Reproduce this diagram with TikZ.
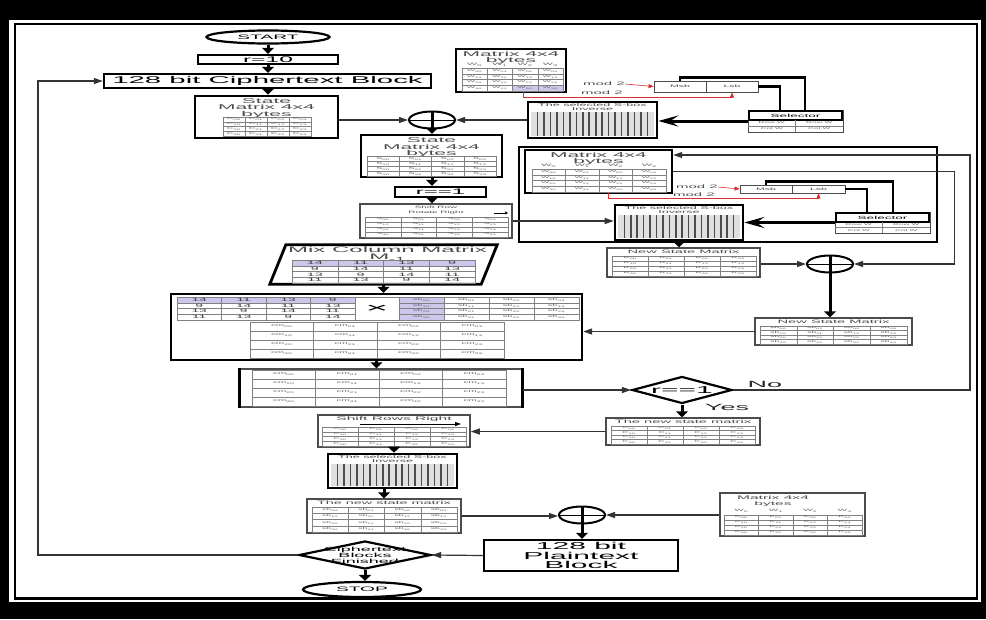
\documentclass[tikz,border=0pt]{standalone}
\usepackage{fontspec}
\setmainfont{Liberation Sans}
\newfontfamily\wf[FakeStretch=3.0]{Liberation Sans}
\usepackage{tikz}
\usetikzlibrary{arrows.meta,positioning,shapes.geometric,calc,fit}
\definecolor{cellpurple}{rgb}{0.80,0.78,0.92}
\definecolor{modred}{rgb}{0.86,0.18,0.18}

\newcommand{\wfs}[2]{\wf\fontsize{#1}{#2}\selectfont}

% 4x4 table with indexed entries
\newcommand{\mgrid}[7]{%
  \draw[gridline] (#2,#3) rectangle (#4,#5);
  \foreach \k in {1,2,3} {
    \draw[gridline] ({#2+(#4-#2)*\k/4},#3) -- ({#2+(#4-#2)*\k/4},#5);
    \draw[gridline] (#2,{#3+(#5-#3)*\k/4}) -- (#4,{#3+(#5-#3)*\k/4});
  }
  \foreach \gi in {0,...,3}
    \foreach \gj in {0,...,3}
      \node[cell, font={\wfs{#7}{#7}}] (#1-\gi\gj)
        at ({#2+(#4-#2)*(\gj+0.5)/4},{#3+(#5-#3)*(\gi+0.5)/4}) {#6\textsubscript{\gi\gj}};
}
% 4x4 table of the inverse mix column numbers
\newcommand{\numgrid}[6]{%
  \draw[gridline] (#2,#3) rectangle (#4,#5);
  \foreach \k in {1,2,3} {
    \draw[gridline] ({#2+(#4-#2)*\k/4},#3) -- ({#2+(#4-#2)*\k/4},#5);
    \draw[gridline] (#2,{#3+(#5-#3)*\k/4}) -- (#4,{#3+(#5-#3)*\k/4});
  }
  \foreach \grow [count=\gi from 0] in {{14,11,13,9},{9,14,11,13},{13,9,14,11},{11,13,9,14}}
    \foreach \gv [count=\gj from 0] in \grow
      \node[cell, text=black!75, font={\wfs{#6}{#6}}] (#1-\gi\gj)
        at ({#2+(#4-#2)*(\gj+0.5)/4},{#3+(#5-#3)*(\gi+0.5)/4}) {\gv};
}
% header row W0..W3
\newcommand{\hdrrow}[6]{%
  \foreach \gj in {0,...,3}
    \node[cell, font={\wfs{#6}{#6}}] (#1-h\gj) at ({#2+(#3-#2)*(\gj+0.5)/4},#4) {#5\textsubscript{\gj}};
}
% S-box block
\newcommand{\sboxdraw}[5]{%
  \node[draw, line width=2.6pt, inner sep=0pt, fit={(#2,#3) (#4,#5)}] (#1) {};
  \fill[black!12] ({#2+3},{#3+10}) rectangle ({#4-3},{#5-2});
  \foreach \k in {1,...,18}
    \draw[line width=1.6pt, black!70] ({#2+3+(#4-#2-6)*\k/19},{#3+10}) -- ({#2+3+(#4-#2-6)*\k/19},{#5-2});
  \node[ttext, font={\wfs{4.2}{3.8}}, anchor=north] (#1-t) at ($(#1.north)+(0,3)$) {The selected S-box\\Inverse};
}
% selector block
\newcommand{\selector}[5]{%
  \node[tbox, line width=1pt, fit={(#2,#3) (#4,#5)}] (#1) {};
  \node[draw, line width=1.8pt, inner sep=0pt, fit={({#2+1},{#3+1}) ({#4-1},{#3+10})},
    label={[font={\wfs{4.5}{4.5}}, inner sep=0pt]center:Selector}] (#1-h) {};
  \draw[gridline] ({(#2+#4)/2},{#3+10}) -- ({(#2+#4)/2},#5);
  \draw[gridline] (#2,{(#3+10+#5)/2}) -- (#4,{(#3+10+#5)/2});
  \node[cell, font={\wfs{2.7}{2.7}}] (#1-a) at ({#2+(#4-#2)/4},{#3+10+(#5-#3-10)/4}) {Row W};
  \node[cell, font={\wfs{2.7}{2.7}}] (#1-b) at ({#2+3*(#4-#2)/4},{#3+10+(#5-#3-10)/4}) {Row W};
  \node[cell, font={\wfs{2.7}{2.7}}] (#1-c) at ({#2+(#4-#2)/4},{#3+10+3*(#5-#3-10)/4}) {Col W};
  \node[cell, font={\wfs{2.7}{2.7}}] (#1-d) at ({#2+3*(#4-#2)/4},{#3+10+3*(#5-#3-10)/4}) {Col W};
}

\begin{document}
\begin{tikzpicture}[x=1pt,y=-1pt,
  box/.style={draw, line width=2.4pt, inner sep=0pt},
  tbox/.style={draw=black!70, line width=1.5pt, inner sep=0pt},
  gridline/.style={draw=black!50, line width=0.5pt},
  cell/.style={inner sep=0pt, text=black!60},
  ttext/.style={inner sep=0pt, align=center, text=black!70},
  btext/.style={inner sep=0pt, align=center, text=black!85},
  arr/.style={-{Triangle[length=6pt,width=12pt]}, line width=3pt},
  harr/.style={-{Triangle[length=9pt,width=6pt]}, line width=1.2pt, draw=black!80},
  farr/.style={-{Stealth[length=20pt,width=11pt,inset=8pt]}, line width=3pt},
  rarr/.style={-{Triangle[length=5pt,width=4pt]}, draw=modred, line width=0.6pt},
  link/.style={line width=2.4pt},
  xor/.style={ellipse, draw, line width=2pt, minimum width=46pt, minimum height=17pt, inner sep=0pt},
  term/.style={ellipse, draw, line width=2.2pt, inner sep=0pt},
  dec/.style={diamond, draw, line width=2.2pt, inner sep=0pt},
]
\useasboundingbox (0,0) rectangle (986,619);
% frame
\fill[black] (0,0) rectangle (986,619);
\fill[white] (9,20) rectangle (981,602);
\draw[line width=2.5pt] (15,24) rectangle (977,598.5);

% first round
\node[term, minimum width=123pt, minimum height=13pt, font={\wfs{6.4}{6.4}}] (start) at (268,37) {START};
\node[box, fit={(198,55) (338,64)},
  label={[font={\wfs{8.2}{8.2}}, inner sep=0pt]center:r=10}] (r10) {};
\node[box, fit={(104,74) (431,88)},
  label={[font={\wfs{9.8}{9.8}}, inner sep=0pt]center:128 bit Ciphertext Block}] (ct) {};
\node[box, line width=2.8pt, fit={(195,96) (338,138)}] (sm1) {};
\node[ttext, font={\wfs{7}{6.8}}, anchor=north] (sm1-t) at ($(sm1.north)+(0,3.5)$) {State\\Matrix 4x4\\bytes};
\mgrid{sm1}{223}{117}{311}{136}{C}{3}
\draw[arr] (start.south) -- (start.south |- r10.north);
\draw[arr] (r10.south -| start.south) -- (start.south |- ct.north);
\draw[arr] (ct.south -| start.south) -- (start.south |- sm1.north);

\node[xor] (xor1) at (432,120) {};
\draw[line width=1pt] (xor1.west) -- (xor1.east);
\draw[harr] (sm1.east |- xor1.west) -- (xor1.west);

\node[box, fit={(456,49) (566,92)}] (wm1) {};
\node[ttext, font={\wfs{7}{6.5}}, anchor=north] (wm1-t) at ($(wm1.north)+(0,3)$) {Matrix 4x4\\bytes};
\hdrrow{wm1}{462}{563}{65}{W}{3.6}
\fill[cellpurple] (512.5,85.25) rectangle (563,91);
\mgrid{wm1}{462}{68}{563}{91}{W}{2.8}
\node[ttext, font={\wfs{5}{5}}] (wm1-m1) at (604,84) {mod 2};
\node[ttext, font={\wfs{5}{5}}] (wm1-m2) at (602,93) {mod 2};
\node[tbox, line width=0.8pt, fit={(654,81) (706,92)},
  label={[font={\wfs{3.5}{3.5}}, inner sep=0pt, text=black!70]center:Msb}] (msb1) {};
\node[tbox, line width=0.8pt, fit={(706,81) (758,92)},
  label={[font={\wfs{3.5}{3.5}}, inner sep=0pt, text=black!70]center:Lsb}] (lsb1) {};
\draw[rarr] (wm1-m1.east) -- (msb1.west);
\coordinate (wm1-r) at (523,92);
\draw[rarr] (wm1-r) -- ++(0,5) -| (lsb1.south);
\selector{sel1}{748}{110}{843}{132}
\draw[link] (lsb1.east) -| ($(sel1.north west)!0.34!(sel1.north east)$);
\draw[link] (msb1.north) -- ++(0,-3) -| ($(sel1.north west)!0.6!(sel1.north east)$);
\sboxdraw{sb1}{528}{102}{657}{138}
\draw[farr] (sel1.west) -- (sel1.west -| sb1.east);
\draw[harr] (sb1.west |- xor1.east) -- (xor1.east);

\node[box, fit={(361,135) (502,177)}] (sm2) {};
\node[ttext, font={\wfs{7}{6.8}}, anchor=north] (sm2-t) at ($(sm2.north)+(0,3.5)$) {State\\Matrix 4x4\\bytes};
\mgrid{sm2}{367}{156}{496}{176}{S}{3}
\draw[arr] (xor1.north) -- (xor1.north |- sm2.north);
\node[box, fit={(395,187) (486,197)},
  label={[font={\wfs{8}{8}}, inner sep=0pt]center:r==1}] (r11) {};
\node[tbox, fit={(360,204) (512,238)}] (shr) {};
\node[ttext, font={\wfs{3.3}{4.5}}, anchor=north] (shr-t) at ($(shr.north)+(0,3)$) {Shift Row\\Rotate Right};
\mgrid{shr}{365}{217}{508}{237}{S}{2.8}
\coordinate (shr-a1) at (494,213);
\coordinate (shr-a2) at (508,213);
\draw[-{Triangle[length=3pt,width=3pt]}, line width=0.6pt] (shr-a1) -- (shr-a2);
\draw[arr] (sm2.south -| xor1.north) -- (xor1.north |- r11.north);
\draw[arr] (r11.south -| xor1.north) -- (xor1.north |- shr.north);

% repeated rounds
\node[draw, line width=2.6pt, inner sep=0pt, fit={(519,147) (937,242)}] (loop) {};
\node[box, fit={(525,150) (672,193)}] (wm2) {};
\node[ttext, font={\wfs{7}{6.5}}, anchor=north] (wm2-t) at ($(wm2.north)+(0,3)$) {Matrix 4x4\\bytes};
\hdrrow{wm2}{532}{666}{166}{W}{3.6}
\mgrid{wm2}{532}{169}{666}{192}{W}{2.8}
\node[ttext, font={\wfs{5}{5}}] (wm2-m1) at (697,187) {mod 2};
\node[ttext, font={\wfs{5}{5}}] (wm2-m2) at (694,195) {mod 2};
\node[tbox, line width=0.8pt, fit={(740,185) (792,193)},
  label={[font={\wfs{3.5}{3.5}}, inner sep=0pt, text=black!70]center:Msb}] (msb2) {};
\node[tbox, line width=0.8pt, fit={(792,185) (845,193)},
  label={[font={\wfs{3.5}{3.5}}, inner sep=0pt, text=black!70]center:Lsb}] (lsb2) {};
\draw[rarr] (wm2-m1.east) -- (msb2.west);
\coordinate (wm2-r) at (608,193);
\draw[rarr] (wm2-r) -- ++(0,5) -| (lsb2.south);
\selector{sel2}{835}{212}{930}{233}
\draw[link] (lsb2.east) -| ($(sel2.north west)!0.34!(sel2.north east)$);
\draw[link] (msb2.north) -- ++(0,-3) -| ($(sel2.north west)!0.61!(sel2.north east)$);
\sboxdraw{sb2}{615}{205}{743}{240}
\draw[farr] (sel2.west) -- (sel2.west -| sb2.east);
\draw[harr] (shr.east) -- (shr.east -| sb2.west);

\node[tbox, fit={(607,248) (760,277)}] (nsm1) {};
\node[ttext, font={\wfs{4.9}{4.9}}, anchor=north] (nsm1-t) at ($(nsm1.north)+(0,2.5)$) {New State Matrix};
\mgrid{nsm1}{612}{256}{756}{276}{R}{2.8}
\draw[arr] (sb2.south) -- (sb2.south |- nsm1.north);
\node[xor] (xor2) at (830,264) {};
\draw[line width=1pt] (xor2.west) -- (xor2.east);
\draw[harr] (nsm1.east |- xor2.west) -- (xor2.west);
\draw[harr] (wm2.east) -- ++(281,0) |- (xor2.east);

\node[tbox, fit={(755,318) (912,345)}] (nsm2) {};
\node[ttext, font={\wfs{4.9}{4.9}}, anchor=north] (nsm2-t) at ($(nsm2.north)+(0,2.5)$) {New State Matrix};
\mgrid{nsm2}{760}{326}{907}{344}{sb}{2.8}
\draw[arr] (xor2.north) -- (xor2.north |- nsm2.north);

% inverse mix column
\node[inner sep=0pt, fit={(270,245) (497,284)}] (mix) {};
\draw[line width=2.8pt] ($(mix.north west)+(16,0)$) -- (mix.north east) -- ($(mix.south east)+(-16,0)$) -- (mix.south west) -- cycle;
\node[ttext, font={\wfs{8}{7}}, anchor=north] (mix-t) at ($(mix.north)+(4,2)$) {Mix Column Matrix\\M\textsubscript{-1}};
\fill[cellpurple] (292,260) rectangle (475,266);
\numgrid{mix}{292}{260}{475}{283}{4.8}

\node[box, fit={(171,294) (582,360)}] (big) {};
\fill[cellpurple] (177,297) rectangle (355,302.75);
\numgrid{bigl}{177}{297}{355}{320}{4.6}
\draw[gridline] (355,297) rectangle (399,320);
\node[inner sep=0pt, font={\wfs{13}{13}}] (big-x) at (377,309) {×};
\fill[cellpurple] (399,297) rectangle (444,320);
\mgrid{bigr}{399}{297}{579}{320}{sb}{3}
\mgrid{bigc}{250}{322}{504}{358}{cm}{3.3}
\draw[arr] (mix.south) -- (mix.south |- big.north);
\draw[harr] (nsm2.west) -- (nsm2.west -| big.east);

\node[tbox, fit={(240,369) (522,407)}] (cm2) {};
\draw[line width=3pt] (cm2.north west) -- (cm2.south west);
\draw[line width=3pt] (cm2.north east) -- (cm2.south east);
\mgrid{cm2}{252}{370}{506}{406}{cm}{3.3}
\draw[arr] (big.south) -- (big.south |- cm2.north);

\node[dec, minimum width=100pt, minimum height=27pt,
  label={[font={\wfs{10}{10}}, inner sep=0pt]center:r==1}] (r11d) at (682,390) {};
\draw[harr] (cm2.east |- r11d.west) -- (r11d.west);
\node[btext, font={\wfs{9}{9}}] (no) at (765,384) {No};
\node[btext, font={\wfs{9}{9}}] (yes) at (727,407) {Yes};
\coordinate (nocorner) at (970,155);
\draw[harr] (r11d.east) -| (nocorner) -- (nocorner -| wm2.east);

% last round
\node[tbox, fit={(606,418) (760,445)}] (nsm3) {};
\node[ttext, font={\wfs{4.9}{4.9}}, anchor=north] (nsm3-t) at ($(nsm3.north)+(0,2.5)$) {The new state matrix};
\mgrid{nsm3}{611}{426}{755}{444}{C}{2.8}
\draw[arr] (r11d.south) -- (r11d.south |- nsm3.north);

\node[tbox, fit={(318,415) (470,447)}] (shrr) {};
\node[ttext, font={\wfs{5.2}{5.2}}, anchor=north] (shrr-t) at ($(shrr.north)+(0,2.5)$) {Shift Rows Right};
\coordinate (shrr-a1) at (360,424);
\coordinate (shrr-a2) at (461,424);
\draw[-{Triangle[length=6pt,width=4pt]}, line width=0.8pt] (shrr-a1) -- (shrr-a2);
\mgrid{shrr}{322}{427}{466}{446}{C}{2.8}
\draw[harr] (nsm3.west) -- (nsm3.west -| shrr.east);

\sboxdraw{sb3}{328}{454}{457}{488}
\draw[arr] (shrr.south) -- (shrr.south |- sb3.north);
\node[tbox, fit={(307,499) (461,533)}] (nsm4) {};
\node[ttext, font={\wfs{4.8}{4.8}}, anchor=north] (nsm4-t) at ($(nsm4.north)+(0,2.5)$) {The new state matrix};
\mgrid{nsm4}{312}{507}{457}{532}{sb}{2.8}
\draw[arr] (sb3.south -| nsm4.north) -- (nsm4.north);

\node[xor] (xor3) at (582,515) {};
\draw[line width=1pt] (xor3.west) -- (xor3.east);
\draw[harr] (nsm4.east) -- (nsm4.east -| xor3.west);
\node[tbox, fit={(720,493) (865,536)}] (mk) {};
\node[ttext, font={\wfs{5.2}{5.5}}, anchor=north] (mk-t) at (773,496) {Matrix 4x4\\bytes};
\hdrrow{mk}{724}{862}{511}{W}{3.3}
\mgrid{mk}{724}{515}{862}{535}{K}{2.8}
\draw[harr] (mk.west |- xor3.east) -- (xor3.east);

\node[box, fit={(484,540) (678,571)},
  label={[font={\wfs{10}{9.5}}, align=center, inner sep=0pt]center:128 bit\\Plaintext\\Block}] (pt) {};
\draw[arr] (xor3.north) -- (xor3.north |- pt.north);
\node[dec, minimum width=132pt, minimum height=28pt,
  label={[font={\wfs{6}{5.5}}, align=center, inner sep=0pt]center:Ciphertext\\Blocks\\Finished}] (cbf) at (365,555) {};
\draw[harr] (pt.west) -- (cbf.east);
\node[term, minimum width=118pt, minimum height=15pt, font={\wfs{6.4}{6.4}}] (stop) at (362,589.5) {STOP};
\draw[arr] (cbf.south) -- (cbf.south |- stop.north);
\coordinate (loopb) at (38,555);
\coordinate (loopt) at (38,81);
\draw[harr] (cbf.west) -- (loopb) -- (loopt) -- (ct.west);
\end{tikzpicture}
\end{document}
